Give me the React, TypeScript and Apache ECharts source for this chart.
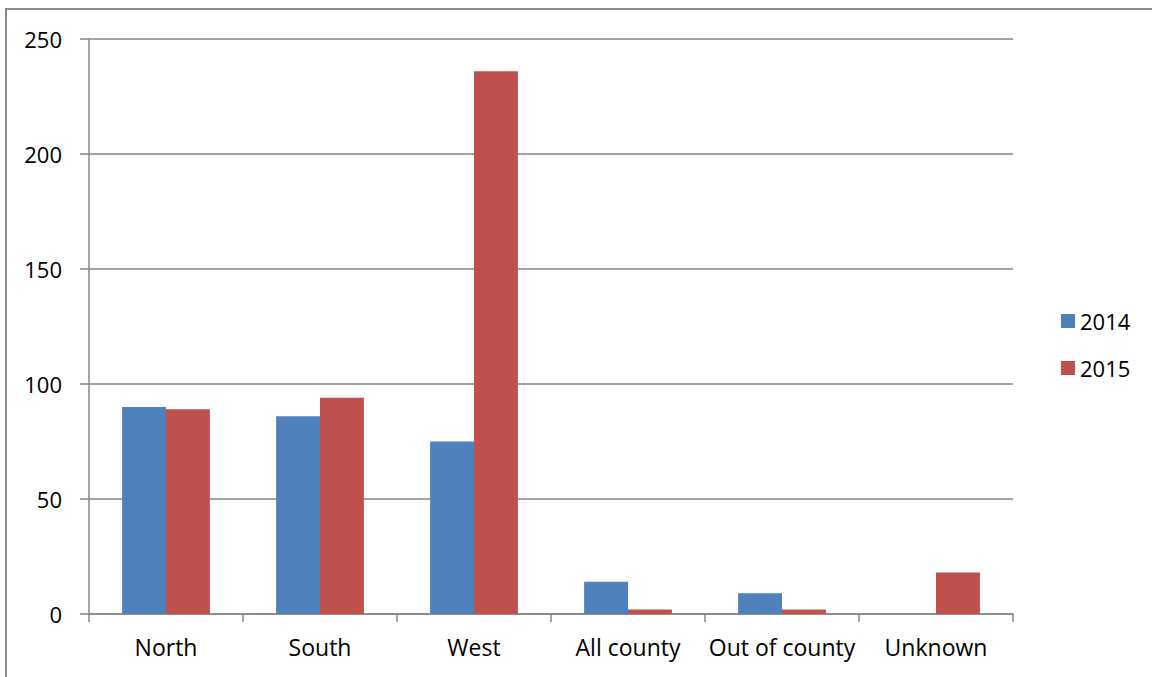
import React, { useEffect, useRef } from "react";
import * as echarts from "echarts";

// Regions and counts per year
const categories = ["North", "South", "West", "All county", "Out of county", "Unknown"];
const values2014 = [90, 86, 75, 14, 9, 0];
const values2015 = [89, 94, 236, 2, 2, 18];
const yTicks = { min: 0, max: 250, interval: 50 };

const BLUE = "#4F81BD";
const RED = "#C0504D";
const GRID = "#868686";
const FONT = "'Open Sans', sans-serif";

export default function App() {
  const ref = useRef<HTMLDivElement>(null);

  useEffect(() => {
    if (!ref.current) return;
    const chart = echarts.init(ref.current, undefined, { renderer: "svg" });
    chart.setOption({
      animation: false,
      backgroundColor: "#ffffff",
      textStyle: { fontFamily: FONT },
      graphic: [
        {
          type: "rect",
          shape: { x: 6, y: 9, width: 1200, height: 720 },
          style: { fill: "none", stroke: "#8a8a8a", lineWidth: 2 },
          silent: true,
        },
      ],
      grid: { left: 89, right: 139, top: 39, bottom: 63, containLabel: false },
      legend: {
        orient: "vertical",
        left: 1056,
        top: 305,
        itemWidth: 14,
        itemHeight: 14,
        itemGap: 25,
        icon: "rect",
        textStyle: { fontFamily: FONT, fontSize: 22, color: "#000", lineHeight: 22 },
        data: ["2014", "2015"],
      },
      xAxis: {
        type: "category",
        data: categories,
        axisLine: { lineStyle: { color: GRID, width: 1.5 } },
        axisTick: { show: true, length: 8, lineStyle: { color: GRID, width: 1.5 } },
        axisLabel: { fontFamily: FONT, fontSize: 23, color: "#000", margin: 21, interval: 0 },
      },
      yAxis: {
        type: "value",
        min: yTicks.min,
        max: yTicks.max,
        interval: yTicks.interval,
        axisLine: { show: true, lineStyle: { color: GRID, width: 1.5 } },
        axisTick: { show: true, length: 9, lineStyle: { color: GRID, width: 1.5 } },
        splitLine: { lineStyle: { color: GRID, width: 1.5 } },
        axisLabel: { fontFamily: FONT, fontSize: 22, color: "#000", margin: 27 },
      },
      series: [
        {
          name: "2014",
          type: "bar",
          data: values2014,
          itemStyle: { color: BLUE },
          barGap: "0%",
          barCategoryGap: "43%",
        },
        {
          name: "2015",
          type: "bar",
          data: values2015,
          itemStyle: { color: RED },
          barGap: "0%",
          barCategoryGap: "43%",
        },
      ],
    });
    return () => chart.dispose();
  }, []);

  return (
    <div
      ref={ref}
      style={{ position: "fixed", left: 0, top: 0, width: 1152, height: 677 }}
    />
  );
}
